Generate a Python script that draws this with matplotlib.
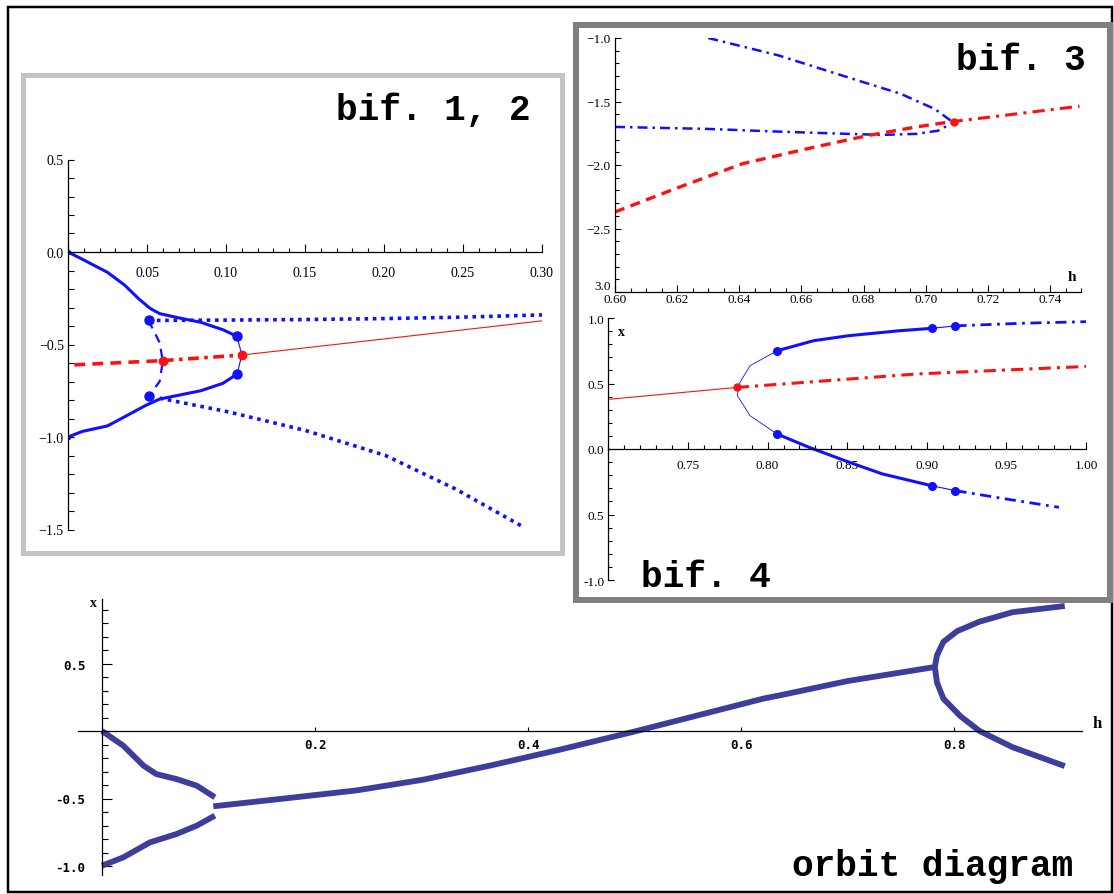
import numpy as np
import matplotlib
matplotlib.use("Agg")
import matplotlib.pyplot as plt
from matplotlib.patches import Rectangle
from matplotlib.ticker import MultipleLocator, FixedLocator, FixedFormatter

W, H = 1114, 895
BLUE = "#1010ff"
RED = "#ff1010"
ORB = "#3d3d9c"

# ---- orbit diagram (h, x) ----
orb_up_h = [0, 0.020, 0.039, 0.051, 0.070, 0.089, 0.106]
orb_up_x = [0, -0.109, -0.257, -0.319, -0.356, -0.405, -0.491]
orb_lo_h = [0, 0.020, 0.045, 0.070, 0.089, 0.106]
orb_lo_x = [-0.998, -0.936, -0.825, -0.763, -0.701, -0.627]
orb_mid_h = [0.1045, 0.177, 0.239, 0.302, 0.364, 0.430, 0.502, 0.621, 0.637, 0.70, 0.782]
orb_mid_x = [-0.558, -0.495, -0.44, -0.36, -0.257, -0.138, 0.0, 0.24, 0.265, 0.37, 0.474]
orb_fork_h = [0.904, 0.855, 0.824, 0.803, 0.79, 0.784, 0.782, 0.784, 0.79, 0.806, 0.824, 0.855, 0.904]
orb_fork_x = [0.926, 0.88, 0.81, 0.74, 0.66, 0.56, 0.474, 0.36, 0.24, 0.11, 0.0, -0.12, -0.26]

# ---- bif. 1, 2 ----
b1_up_h = [0, 0.007, 0.025, 0.036, 0.045, 0.052, 0.058, 0.069, 0.084, 0.098, 0.107]
b1_up_x = [0, -0.03, -0.11, -0.18, -0.255, -0.305, -0.333, -0.354, -0.38, -0.42, -0.456]
b1_lo_h = [0, 0.009, 0.025, 0.036, 0.049, 0.058, 0.084, 0.098, 0.107]
b1_lo_x = [-1.0, -0.97, -0.94, -0.89, -0.83, -0.795, -0.75, -0.71, -0.66]
b1_dotup_h = [0.051, 0.10, 0.15, 0.20, 0.25, 0.30]
b1_dotup_x = [-0.37, -0.368, -0.365, -0.36, -0.352, -0.34]
b1_dotlo_h = [0.058, 0.102, 0.150, 0.201, 0.245, 0.289]
b1_dotlo_x = [-0.79, -0.865, -0.964, -1.10, -1.28, -1.49]
b1_c_h = [0.051, 0.058, 0.060, 0.058, 0.051]
b1_c_x = [-0.37, -0.49, -0.59, -0.70, -0.78]
b1_v_h = [0.107, 0.110, 0.107]
b1_v_x = [-0.456, -0.557, -0.66]
b1_rdash_h = [0.004, 0.060]
b1_rdash_x = [-0.61, -0.587]
b1_rdd_h = [0.060, 0.110]
b1_rdd_x = [-0.587, -0.557]
b1_rsol_h = [0.110, 0.20, 0.30]
b1_rsol_x = [-0.557, -0.47, -0.372]
b1_bpts_h = [0.051, 0.051, 0.107, 0.107]
b1_bpts_x = [-0.37, -0.78, -0.456, -0.66]
b1_rpts_h = [0.060, 0.110]
b1_rpts_x = [-0.59, -0.557]

# ---- bif. 3 ----
b3_up_h = [0.630, 0.6526, 0.675, 0.692, 0.703, 0.708]
b3_up_x = [-1.0, -1.137, -1.31, -1.44, -1.56, -1.65]
b3_lo_h = [0.60, 0.630, 0.6526, 0.675, 0.686, 0.697, 0.704, 0.708]
b3_lo_x = [-1.70, -1.716, -1.737, -1.755, -1.763, -1.755, -1.73, -1.676]
b3_rdash_h = [0.60, 0.619, 0.641, 0.664, 0.681, 0.697, 0.708]
b3_rdash_x = [-2.37, -2.19, -1.99, -1.86, -1.77, -1.70, -1.66]
b3_rdd_h = [0.708, 0.725, 0.7495]
b3_rdd_x = [-1.66, -1.61, -1.537]

# ---- bif. 4 ----
b4_rsol_h = [0.701, 0.7806]
b4_rsol_x = [0.38, 0.47]
b4_rdd_h = [0.7806, 0.894, 1.0]
b4_rdd_x = [0.47, 0.573, 0.63]
b4_fold_h = [0.806, 0.789, 0.782, 0.781, 0.789, 0.806]
b4_fold_x = [0.75, 0.636, 0.496, 0.407, 0.254, 0.114]
b4_up_h = [0.806, 0.829, 0.851, 0.883, 0.903]
b4_up_x = [0.75, 0.827, 0.865, 0.903, 0.921]
b4_upthin_h = [0.903, 0.918]
b4_upthin_x = [0.921, 0.94]
b4_updd_h = [0.918, 0.96, 1.0]
b4_updd_x = [0.94, 0.96, 0.972]
b4_lo_h = [0.806, 0.826, 0.851, 0.872, 0.903]
b4_lo_x = [0.114, 0.013, -0.10, -0.19, -0.28]
b4_lothin_h = [0.903, 0.918]
b4_lothin_x = [-0.28, -0.318]
b4_lodd_h = [0.918, 0.949, 0.983]
b4_lodd_x = [-0.318, -0.38, -0.445]
b4_bpts_h = [0.806, 0.806, 0.903, 0.918, 0.903, 0.918]
b4_bpts_x = [0.75, 0.114, 0.921, 0.94, -0.28, -0.318]


fig = plt.figure(figsize=(W / 100, H / 100), dpi=100)


def make_axes(xcal, ycal, xlim, ylim):
    # xcal/ycal: ((value, pixel), (value, pixel))
    (a0, p0), (a1, p1) = xcal
    sx = (p1 - p0) / (a1 - a0)
    left = p0 + (xlim[0] - a0) * sx
    right = p0 + (xlim[1] - a0) * sx
    (b0, q0), (b1, q1) = ycal
    sy = (q1 - q0) / (b1 - b0)
    top = q0 + (ylim[1] - b0) * sy
    bottom = q0 + (ylim[0] - b0) * sy
    ax = fig.add_axes([left / W, 1 - bottom / H, (right - left) / W, (bottom - top) / H])
    ax.set_xlim(xlim)
    ax.set_ylim(ylim)
    ax.patch.set_alpha(0)
    for s in ["top", "right"]:
        ax.spines[s].set_visible(False)
    for s in ["left", "bottom"]:
        ax.spines[s].set_linewidth(0.9)
    ax.tick_params(which="both", direction="in", width=0.8)
    return ax


# ---------- orbit diagram ----------
ax = make_axes(((0, 102), (0.8, 954)), ((0, 732), (-1, 867)), (-0.023, 0.92), (-1.07, 0.98))
ax.spines["left"].set_position(("data", 0))
ax.spines["bottom"].set_position(("data", 0))
for hh, xx in [(orb_up_h, orb_up_x), (orb_lo_h, orb_lo_x), (orb_mid_h, orb_mid_x), (orb_fork_h, orb_fork_x)]:
    ax.plot(hh, xx, color=ORB, lw=4.2, solid_capstyle="butt", solid_joinstyle="round")
ax.xaxis.set_major_locator(FixedLocator([0.2, 0.4, 0.6, 0.8]))
ax.xaxis.set_major_formatter(FixedFormatter(["0.2", "0.4", "0.6", "0.8"]))
ax.yaxis.set_major_locator(FixedLocator([0.5, -0.5, -1.0]))
ax.yaxis.set_major_formatter(FixedFormatter(["0.5", "-0.5", "-1.0"]))
ax.yaxis.set_minor_locator(MultipleLocator(0.1))
ax.tick_params(axis="x", length=3, pad=5, labelsize=9)
ax.tick_params(axis="y", which="major", length=7, pad=12, labelsize=9)
ax.tick_params(axis="y", which="minor", length=4)
for lab in ax.get_xticklabels() + ax.get_yticklabels():
    lab.set_family("DejaVu Sans Mono")
    lab.set_weight("bold")
ax.text(0.93, 0.0, "h", transform=ax.transData, fontsize=12, family="Liberation Serif",
        weight="bold", va="bottom", ha="left", clip_on=False)
ax.text(-0.005, 1.0, "x", transform=ax.transData, fontsize=10, family="Liberation Serif",
        weight="bold", va="top", ha="right", clip_on=False)

# ---------- bif. 1, 2 ----------
ax1 = make_axes(((0, 68), (0.30, 542)), ((0, 253), (-1, 438)), (0, 0.30), (-1.5, 0.5))
ax1.spines["bottom"].set_position(("data", 0))
ax1.plot(b1_up_h, b1_up_x, color=BLUE, lw=2.2)
ax1.plot(b1_lo_h, b1_lo_x, color=BLUE, lw=2.2)
ax1.plot(b1_dotup_h, b1_dotup_x, color=BLUE, lw=2.6, ls=(0, (1, 1.3)))
ax1.plot(b1_dotlo_h, b1_dotlo_x, color=BLUE, lw=2.6, ls=(0, (1, 1.3)))
ax1.plot(b1_c_h, b1_c_x, color=BLUE, lw=1.6, ls=(0, (4, 3)))
ax1.plot(b1_v_h, b1_v_x, color=BLUE, lw=0.8)
ax1.plot(b1_rdash_h, b1_rdash_x, color=RED, lw=2.6, ls=(0, (3, 2)))
ax1.plot(b1_rdd_h, b1_rdd_x, color=RED, lw=2.6, ls=(0, (3, 1.5, 1, 1.5)))
ax1.plot(b1_rsol_h, b1_rsol_x, color=RED, lw=0.8)
ax1.plot(b1_bpts_h, b1_bpts_x, "o", color=BLUE, ms=6.5)
ax1.plot(b1_rpts_h, b1_rpts_x, "o", color=RED, ms=6)
ax1.plot([0, 0], [0, -1.0], "o", color=BLUE, ms=3)
ax1.xaxis.set_minor_locator(MultipleLocator(0.01))
ax1.xaxis.set_major_locator(FixedLocator([0, 0.05, 0.10, 0.15, 0.20, 0.25, 0.30]))
ax1.xaxis.set_major_formatter(FixedFormatter(["", "0.05", "0.10", "0.15", "0.20", "0.25", "0.30"]))
ax1.yaxis.set_major_locator(FixedLocator([0.5, 0.0, -0.5, -1.0, -1.5]))
ax1.yaxis.set_major_formatter(FixedFormatter(["0.5", "0.0", "\u22120.5", "\u22121.0", "\u22121.5"]))
ax1.yaxis.set_minor_locator(MultipleLocator(0.1))
ax1.tick_params(axis="x", which="major", length=6, pad=10)
ax1.tick_params(axis="x", which="minor", length=3)
ax1.tick_params(axis="y", which="major", length=4, pad=3)
ax1.tick_params(axis="y", which="minor", length=4)
for lab in ax1.get_xticklabels() + ax1.get_yticklabels():
    lab.set_family("Liberation Serif")
    lab.set_fontsize(10)

# ---------- bif. 3 ----------
ax3 = make_axes(((0.60, 615), (0.74, 1050)), ((-1.0, 39), (-3.0, 293)), (0.60, 0.75), (-3.0, -1.0))
ax3.plot(b3_up_h, b3_up_x, color=BLUE, lw=1.8, ls=(0, (4, 2, 1, 2)))
ax3.plot(b3_lo_h, b3_lo_x, color=BLUE, lw=1.8, ls=(0, (4, 2, 1, 2)))
ax3.plot(b3_rdash_h, b3_rdash_x, color=RED, lw=2.4, ls=(0, (3, 2)))
ax3.plot(b3_rdd_h, b3_rdd_x, color=RED, lw=2.2, ls=(0, (4, 2, 1, 2)))
ax3.plot([0.709], [-1.665], "o", color=RED, ms=5)
ax3.xaxis.set_major_locator(FixedLocator([0.60, 0.62, 0.64, 0.66, 0.68, 0.70, 0.72, 0.74]))
ax3.xaxis.set_major_formatter(FixedFormatter(["0.60", "0.62", "0.64", "0.66", "0.68", "0.70", "0.72", "0.74"]))
ax3.xaxis.set_minor_locator(MultipleLocator(0.005))
ax3.yaxis.set_major_locator(FixedLocator([-1.0, -1.5, -2.0, -2.5, -3.0]))
ax3.yaxis.set_major_formatter(FixedFormatter(["\u22121.0", "\u22121.5", "\u22122.0", "\u22122.5", "3.0"]))
ax3.yaxis.set_minor_locator(MultipleLocator(0.1))
ax3.tick_params(axis="x", which="major", length=5, pad=1)
ax3.tick_params(axis="x", which="minor", length=3)
ax3.tick_params(axis="y", which="major", length=4, pad=3)
ax3.tick_params(axis="y", which="minor", length=3)
for lab in ax3.get_xticklabels() + ax3.get_yticklabels():
    lab.set_family("Liberation Serif")
    lab.set_fontsize(9.5)
# the bottom y label sits just above the corner so it clears "0.60"
ax3.get_yticklabels()[-1].set_va("bottom")
ax3.text(0.7485, -2.93, "h", fontsize=11, family="Liberation Serif", weight="bold",
         ha="right", va="bottom")

# ---------- bif. 4 ----------
ax4 = make_axes(((0.75, 688), (1.0, 1086)), ((0, 450), (1.0, 319)), (0.70, 1.0), (-1.0, 1.0))
ax4.spines["bottom"].set_position(("data", 0))
ax4.plot(b4_rsol_h, b4_rsol_x, color=RED, lw=0.8)
ax4.plot(b4_rdd_h, b4_rdd_x, color=RED, lw=2.2, ls=(0, (4, 2, 1, 2)))
ax4.plot(b4_fold_h, b4_fold_x, color=BLUE, lw=0.6)
ax4.plot(b4_up_h, b4_up_x, color=BLUE, lw=2.2)
ax4.plot(b4_lo_h, b4_lo_x, color=BLUE, lw=2.2)
ax4.plot(b4_upthin_h, b4_upthin_x, color=BLUE, lw=0.8)
ax4.plot(b4_lothin_h, b4_lothin_x, color=BLUE, lw=0.8)
ax4.plot(b4_updd_h, b4_updd_x, color=BLUE, lw=2.0, ls=(0, (4, 2, 1, 2)))
ax4.plot(b4_lodd_h, b4_lodd_x, color=BLUE, lw=2.0, ls=(0, (4, 2, 1, 2)))
ax4.plot(b4_bpts_h, b4_bpts_x, "o", color=BLUE, ms=5.5)
ax4.plot([0.7806], [0.47], "o", color=RED, ms=5)
ax4.xaxis.set_major_locator(FixedLocator([0.75, 0.80, 0.85, 0.90, 0.95, 1.00]))
ax4.xaxis.set_major_formatter(FixedFormatter(["0.75", "0.80", "0.85", "0.90", "0.95", "1.00"]))
ax4.xaxis.set_minor_locator(MultipleLocator(0.01))
ax4.yaxis.set_major_locator(FixedLocator([1.0, 0.5, 0.0, -0.5, -1.0]))
ax4.yaxis.set_major_formatter(FixedFormatter(["1.0", "0.5", "0.0", "0.5", "-1.0"]))
ax4.yaxis.set_minor_locator(MultipleLocator(0.1))
ax4.tick_params(axis="x", which="major", length=5, pad=7)
ax4.tick_params(axis="x", which="minor", length=3)
ax4.tick_params(axis="y", which="major", length=4, pad=3)
ax4.tick_params(axis="y", which="minor", length=3)
for lab in ax4.get_xticklabels() + ax4.get_yticklabels():
    lab.set_family("Liberation Serif")
    lab.set_fontsize(9.5)
ax4.text(0.706, 0.95, "x", fontsize=10, family="Liberation Serif", weight="bold",
         ha="left", va="top")

# ---------- frames and titles ----------
def px_rect(x0, y0, x1, y1, color, lw_px):
    fig.patches.append(Rectangle((x0 / W, 1 - y1 / H), (x1 - x0) / W, (y1 - y0) / H,
                                 transform=fig.transFigure, fill=False,
                                 edgecolor=color, linewidth=lw_px * 0.72, zorder=5))

px_rect(8, 8, 1112, 893, "black", 2.5)
px_rect(22.5, 75.5, 561.5, 553.5, "#c4c4c4", 5)
px_rect(576, 26, 1110, 601, "#808080", 6)

title_kw = dict(family="Liberation Mono", weight="bold", fontsize=26, va="baseline")
fig.text(531 / W, 1 - 120 / H, "bif. 1, 2", ha="right", **title_kw)
fig.text(1086 / W, 1 - 70 / H, "bif. 3", ha="right", **title_kw)
fig.text(641 / W, 1 - 587 / H, "bif. 4", ha="left", **title_kw)
fig.text(1073 / W, 1 - 876 / H, "orbit diagram", ha="right", **title_kw)

fig.savefig("out.png", dpi=100)
